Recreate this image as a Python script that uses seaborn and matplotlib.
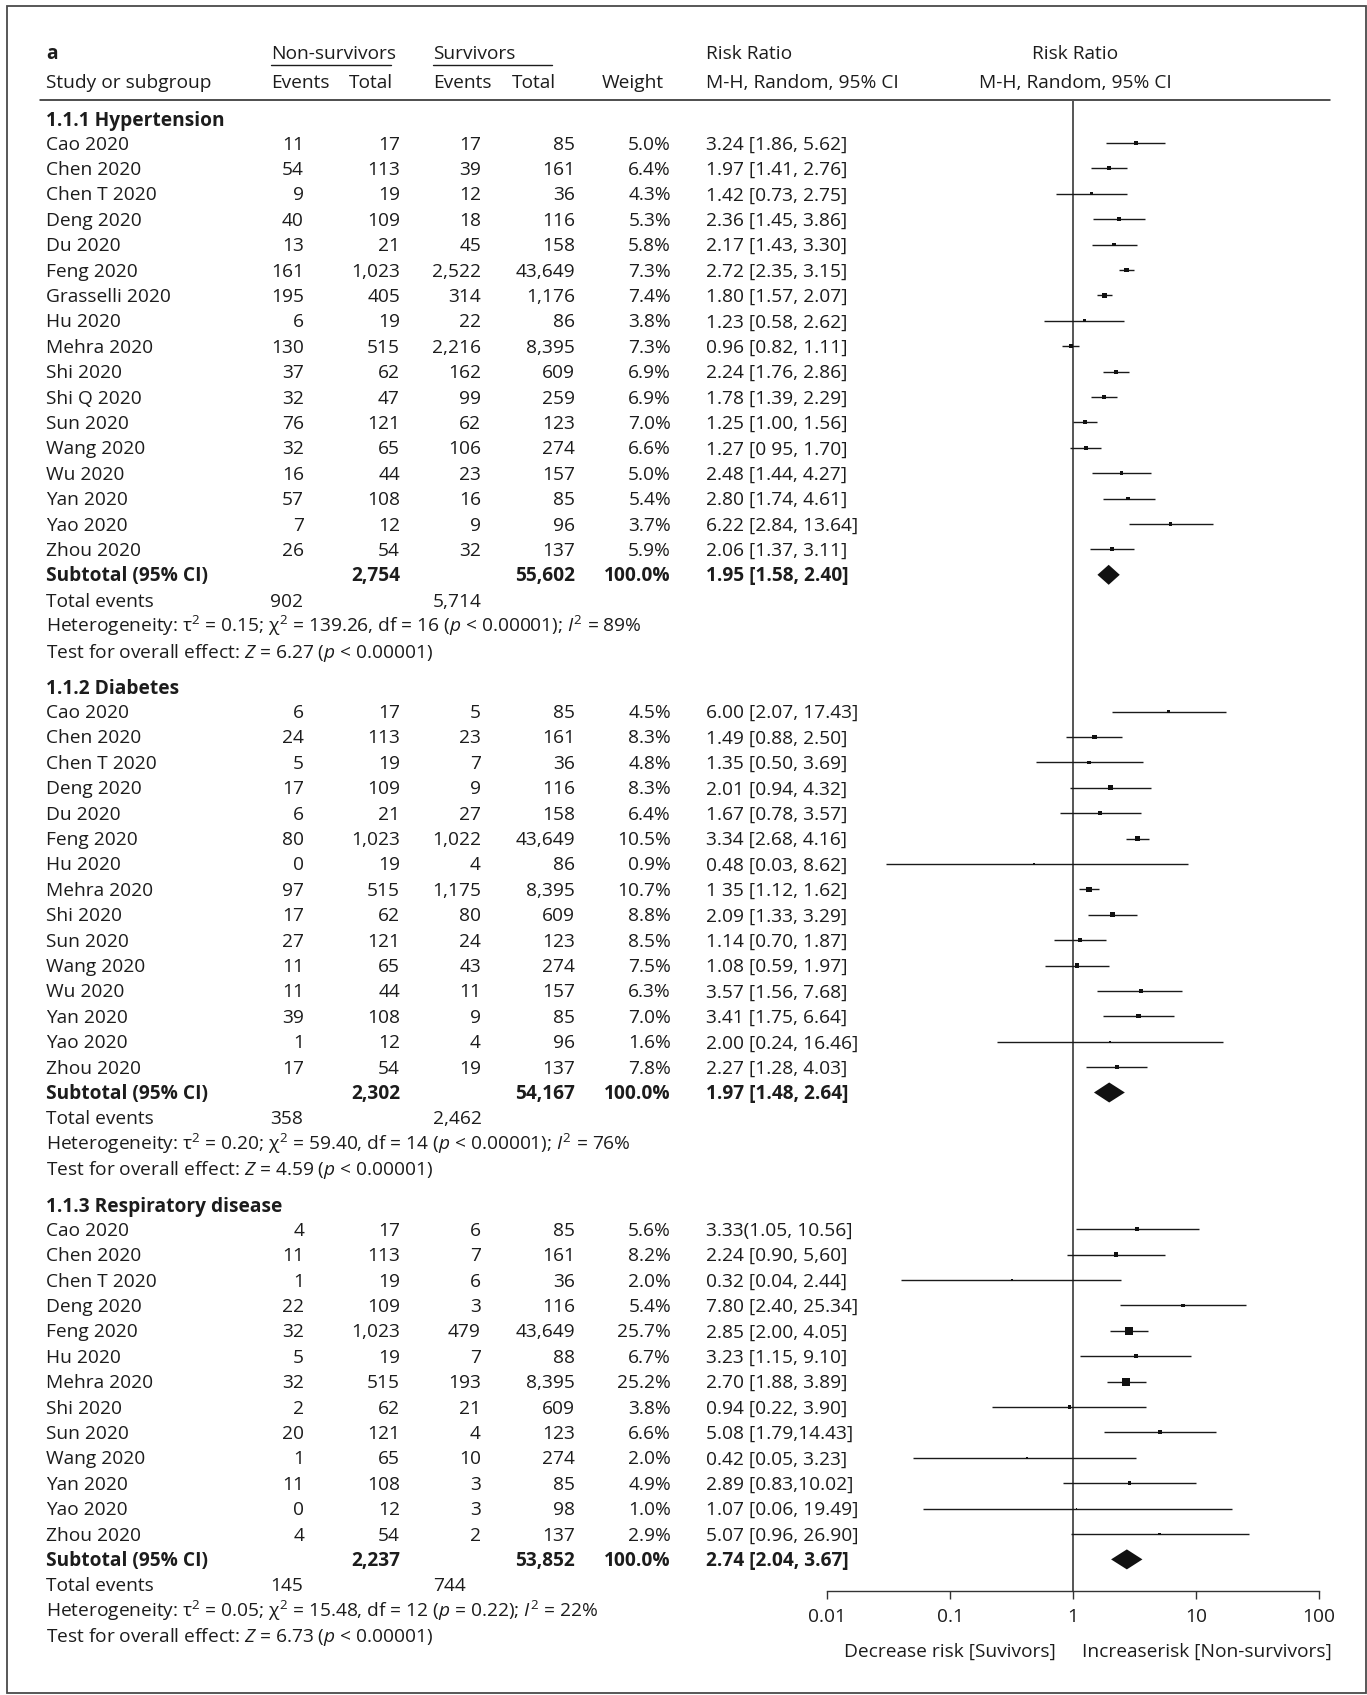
import numpy as np
import pandas as pd
import matplotlib
matplotlib.use("Agg")
import matplotlib.pyplot as plt
import seaborn as sns
from matplotlib.patches import Rectangle

# ---------------------------------------------------------------- data
htn_study = ["Cao 2020", "Chen 2020", "Chen T 2020", "Deng 2020", "Du 2020", "Feng 2020",
             "Grasselli 2020", "Hu 2020", "Mehra 2020", "Shi 2020", "Shi Q 2020", "Sun 2020",
             "Wang 2020", "Wu 2020", "Yan 2020", "Yao 2020", "Zhou 2020"]
htn_ev_ns = [11, 54, 9, 40, 13, 161, 195, 6, 130, 37, 32, 76, 32, 16, 57, 7, 26]
htn_tot_ns = [17, 113, 19, 109, 21, 1023, 405, 19, 515, 62, 47, 121, 65, 44, 108, 12, 54]
htn_ev_s = [17, 39, 12, 18, 45, 2522, 314, 22, 2216, 162, 99, 62, 106, 23, 16, 9, 32]
htn_tot_s = [85, 161, 36, 116, 158, 43649, 1176, 86, 8395, 609, 259, 123, 274, 157, 85, 96, 137]
htn_weight = [5.0, 6.4, 4.3, 5.3, 5.8, 7.3, 7.4, 3.8, 7.3, 6.9, 6.9, 7.0, 6.6, 5.0, 5.4, 3.7, 5.9]
htn_rr = [3.24, 1.97, 1.42, 2.36, 2.17, 2.72, 1.80, 1.23, 0.96, 2.24, 1.78, 1.25, 1.27, 2.48, 2.80, 6.22, 2.06]
htn_lo = [1.86, 1.41, 0.73, 1.45, 1.43, 2.35, 1.57, 0.58, 0.82, 1.76, 1.39, 1.00, 0.95, 1.44, 1.74, 2.84, 1.37]
htn_hi = [5.62, 2.76, 2.75, 3.86, 3.30, 3.15, 2.07, 2.62, 1.11, 2.86, 2.29, 1.56, 1.70, 4.27, 4.61, 13.64, 3.11]
htn_ci_text = ["3.24 [1.86, 5.62]", "1.97 [1.41, 2.76]", "1.42 [0.73, 2.75]", "2.36 [1.45, 3.86]",
               "2.17 [1.43, 3.30]", "2.72 [2.35, 3.15]", "1.80 [1.57, 2.07]", "1.23 [0.58, 2.62]",
               "0.96 [0.82, 1.11]", "2.24 [1.76, 2.86]", "1.78 [1.39, 2.29]", "1.25 [1.00, 1.56]",
               "1.27 [0 95, 1.70]", "2.48 [1.44, 4.27]", "2.80 [1.74, 4.61]", "6.22 [2.84, 13.64]",
               "2.06 [1.37, 3.11]"]
htn_sub = dict(tot_ns=2754, tot_s=55602, rr=1.95, lo=1.58, hi=2.40, text="1.95 [1.58, 2.40]",
               ev_ns=902, ev_s=5714)
htn_het = r"Heterogeneity: τ$^2$ = 0.15; χ$^2$ = 139.26, df = 16 ($\mathit{p}$ < 0.00001); $\mathit{I}^2$ = 89%"
htn_test = r"Test for overall effect: $\mathit{Z}$ = 6.27 ($\mathit{p}$ < 0.00001)"

dm_study = ["Cao 2020", "Chen 2020", "Chen T 2020", "Deng 2020", "Du 2020", "Feng 2020", "Hu 2020",
            "Mehra 2020", "Shi 2020", "Sun 2020", "Wang 2020", "Wu 2020", "Yan 2020", "Yao 2020",
            "Zhou 2020"]
dm_ev_ns = [6, 24, 5, 17, 6, 80, 0, 97, 17, 27, 11, 11, 39, 1, 17]
dm_tot_ns = [17, 113, 19, 109, 21, 1023, 19, 515, 62, 121, 65, 44, 108, 12, 54]
dm_ev_s = [5, 23, 7, 9, 27, 1022, 4, 1175, 80, 24, 43, 11, 9, 4, 19]
dm_tot_s = [85, 161, 36, 116, 158, 43649, 86, 8395, 609, 123, 274, 157, 85, 96, 137]
dm_weight = [4.5, 8.3, 4.8, 8.3, 6.4, 10.5, 0.9, 10.7, 8.8, 8.5, 7.5, 6.3, 7.0, 1.6, 7.8]
dm_rr = [6.00, 1.49, 1.35, 2.01, 1.67, 3.34, 0.48, 1.35, 2.09, 1.14, 1.08, 3.57, 3.41, 2.00, 2.27]
dm_lo = [2.07, 0.88, 0.50, 0.94, 0.78, 2.68, 0.03, 1.12, 1.33, 0.70, 0.59, 1.56, 1.75, 0.24, 1.28]
dm_hi = [17.43, 2.50, 3.69, 4.32, 3.57, 4.16, 8.62, 1.62, 3.29, 1.87, 1.97, 7.68, 6.64, 16.46, 4.03]
dm_ci_text = ["6.00 [2.07, 17.43]", "1.49 [0.88, 2.50]", "1.35 [0.50, 3.69]", "2.01 [0.94, 4.32]",
              "1.67 [0.78, 3.57]", "3.34 [2.68, 4.16]", "0.48 [0.03, 8.62]", "1 35 [1.12, 1.62]",
              "2.09 [1.33, 3.29]", "1.14 [0.70, 1.87]", "1.08 [0.59, 1.97]", "3.57 [1.56, 7.68]",
              "3.41 [1.75, 6.64]", "2.00 [0.24, 16.46]", "2.27 [1.28, 4.03]"]
dm_sub = dict(tot_ns=2302, tot_s=54167, rr=1.97, lo=1.48, hi=2.64, text="1.97 [1.48, 2.64]",
              ev_ns=358, ev_s=2462)
dm_het = r"Heterogeneity: τ$^2$ = 0.20; χ$^2$ = 59.40, df = 14 ($\mathit{p}$ < 0.00001); $\mathit{I}^2$ = 76%"
dm_test = r"Test for overall effect: $\mathit{Z}$ = 4.59 ($\mathit{p}$ < 0.00001)"

resp_study = ["Cao 2020", "Chen 2020", "Chen T 2020", "Deng 2020", "Feng 2020", "Hu 2020",
              "Mehra 2020", "Shi 2020", "Sun 2020", "Wang 2020", "Yan 2020", "Yao 2020", "Zhou 2020"]
resp_ev_ns = [4, 11, 1, 22, 32, 5, 32, 2, 20, 1, 11, 0, 4]
resp_tot_ns = [17, 113, 19, 109, 1023, 19, 515, 62, 121, 65, 108, 12, 54]
resp_ev_s = [6, 7, 6, 3, 479, 7, 193, 21, 4, 10, 3, 3, 2]
resp_tot_s = [85, 161, 36, 116, 43649, 88, 8395, 609, 123, 274, 85, 98, 137]
resp_weight = [5.6, 8.2, 2.0, 5.4, 25.7, 6.7, 25.2, 3.8, 6.6, 2.0, 4.9, 1.0, 2.9]
resp_rr = [3.33, 2.24, 0.32, 7.80, 2.85, 3.23, 2.70, 0.94, 5.08, 0.42, 2.89, 1.07, 5.07]
resp_lo = [1.05, 0.90, 0.04, 2.40, 2.00, 1.15, 1.88, 0.22, 1.79, 0.05, 0.83, 0.06, 0.96]
resp_hi = [10.56, 5.60, 2.44, 25.34, 4.05, 9.10, 3.89, 3.90, 14.43, 3.23, 10.02, 19.49, 26.90]
resp_ci_text = ["3.33(1.05, 10.56]", "2.24 [0.90, 5,60]", "0.32 [0.04, 2.44]", "7.80 [2.40, 25.34]",
                "2.85 [2.00, 4.05]", "3.23 [1.15, 9.10]", "2.70 [1.88, 3.89]", "0.94 [0.22, 3.90]",
                "5.08 [1.79,14.43]", "0.42 [0.05, 3.23]", "2.89 [0.83,10.02]", "1.07 [0.06, 19.49]",
                "5.07 [0.96, 26.90]"]
resp_sub = dict(tot_ns=2237, tot_s=53852, rr=2.74, lo=2.04, hi=3.67, text="2.74 [2.04, 3.67]",
                ev_ns=145, ev_s=744)
resp_het = r"Heterogeneity: τ$^2$ = 0.05; χ$^2$ = 15.48, df = 12 ($\mathit{p}$ = 0.22); $\mathit{I}^2$ = 22%"
resp_test = r"Test for overall effect: $\mathit{Z}$ = 6.73 ($\mathit{p}$ < 0.00001)"

group_titles = ["1.1.1 Hypertension", "1.1.2 Diabetes", "1.1.3 Respiratory disease"]
axis_ticks = [0.01, 0.1, 1, 10, 100]
axis_ticklabels = ["0.01", "0.1", "1", "10", "100"]

# ---------------------------------------------------------------- style
sns.set_theme(style="white")
FONT = ["Open Sans", "DejaVu Sans"]
plt.rcParams["font.family"] = FONT
plt.rcParams["mathtext.fontset"] = "custom"
plt.rcParams["mathtext.rm"] = "Open Sans"
plt.rcParams["mathtext.it"] = "Open Sans:italic"
plt.rcParams["mathtext.bf"] = "Open Sans:bold"

W, H = 1367, 1695
FS = 13.8
TXT = "#1c1c1c"
ROW = 25.4
BASE = 6.6   # baseline offset below row centre

X_STUDY, X_EV_NS, X_TOT_NS, X_EV_S, X_TOT_S, X_W, X_CI = 46, 304, 400, 481, 575, 671, 706
X_TE_NS, X_TE_S = 270, 433

fig = plt.figure(figsize=(W / 100, H / 100), dpi=100)
ax = fig.add_axes([0, 0, 1, 1])
ax.set_xlim(0, W)
ax.set_ylim(H, 0)
ax.axis("off")

AX_L, AX_R, AX_TOP, AX_BOT = 827, 1319, 100, 1591
fax = fig.add_axes([AX_L / W, (H - AX_BOT) / H, (AX_R - AX_L) / W, (AX_BOT - AX_TOP) / H])
fax.patch.set_visible(False)


def t(x, y, s, ha="left", bold=False):
    ax.text(x, y + BASE, s, ha=ha, va="baseline", fontsize=FS, color=TXT,
            fontweight="bold" if bold else "normal", family=FONT)


# frame
ax.add_patch(Rectangle((7, 6), W - 8, H - 8, fill=False, edgecolor="#4a4a4a", lw=1.3))

# header
t(X_STUDY, 52, "a", bold=True)
t(271, 52, "Non-survivors")
t(433, 52, "Survivors")
ax.plot([271, 391], [65, 65], color=TXT, lw=1.0)
ax.plot([433, 552], [65, 65], color=TXT, lw=1.0)
t(X_STUDY, 81, "Study or subgroup")
t(271, 81, "Events")
t(349, 81, "Total")
t(433, 81, "Events")
t(512, 81, "Total")
t(602, 81, "Weight")
t(X_CI, 52, "Risk Ratio")
t(X_CI, 81, "M-H, Random, 95% CI")
t(1075, 52, "Risk Ratio", ha="center")
t(1075, 81, "M-H, Random, 95% CI", ha="center")
ax.plot([40, 1330], [100, 100], color=TXT, lw=1.1)


def draw_group(y0, title, study, ev_ns, tot_ns, ev_s, tot_s, weight, rr, lo, hi, ci_text,
               sub, het, test):
    t(X_STUDY, y0, title, bold=True)
    ys = y0 + 24 + ROW * np.arange(len(study))
    for i, y in enumerate(ys):
        t(X_STUDY, y, study[i])
        t(X_EV_NS, y, f"{ev_ns[i]:,}", ha="right")
        t(X_TOT_NS, y, f"{tot_ns[i]:,}", ha="right")
        t(X_EV_S, y, f"{ev_s[i]:,}", ha="right")
        t(X_TOT_S, y, f"{tot_s[i]:,}", ha="right")
        t(X_W, y, f"{weight[i]:.1f}%", ha="right")
        t(X_CI, y, ci_text[i])
    df = pd.DataFrame({"rr": rr, "y": ys, "w": weight})
    fax.hlines(df["y"], lo, hi, color="#1a1a1a", lw=1.0, zorder=3)
    sns.scatterplot(data=df, x="rr", y="y", size="w", sizes=(0, 33), size_norm=(0, 25.7),
                    marker="s", color="#111111", linewidth=0, legend=False, ax=fax, zorder=4)
    ysub = ys[-1] + ROW
    t(X_STUDY, ysub, "Subtotal (95% CI)", bold=True)
    t(X_TOT_NS, ysub, f"{sub['tot_ns']:,}", ha="right", bold=True)
    t(X_TOT_S, ysub, f"{sub['tot_s']:,}", ha="right", bold=True)
    t(X_W, ysub, "100.0%", ha="right", bold=True)
    t(X_CI, ysub, sub["text"], bold=True)
    dh = 10
    fax.fill([sub["lo"], sub["rr"], sub["hi"], sub["rr"]],
             [ysub, ysub - dh, ysub, ysub + dh], color="#111111", lw=0, zorder=4)
    yte = ysub + ROW
    t(X_STUDY, yte, "Total events")
    t(X_TE_NS, yte, f"{sub['ev_ns']:,}")
    t(X_TE_S, yte, f"{sub['ev_s']:,}")
    t(X_STUDY, yte + ROW, het)
    t(X_STUDY, yte + 2 * ROW, test)
    return yte + 2 * ROW + 36.5


y = 119
y = draw_group(y, group_titles[0], htn_study, htn_ev_ns, htn_tot_ns, htn_ev_s, htn_tot_s,
               htn_weight, htn_rr, htn_lo, htn_hi, htn_ci_text, htn_sub, htn_het, htn_test)
y = draw_group(y, group_titles[1], dm_study, dm_ev_ns, dm_tot_ns, dm_ev_s, dm_tot_s,
               dm_weight, dm_rr, dm_lo, dm_hi, dm_ci_text, dm_sub, dm_het, dm_test)
y = draw_group(y, group_titles[2], resp_study, resp_ev_ns, resp_tot_ns, resp_ev_s, resp_tot_s,
               resp_weight, resp_rr, resp_lo, resp_hi, resp_ci_text, resp_sub, resp_het, resp_test)

# forest axis
fax.set_xscale("log")
fax.set_xlim(axis_ticks[0], axis_ticks[-1])
fax.set_ylim(AX_BOT, AX_TOP)
fax.axvline(1, color="#555555", lw=1.4, zorder=2)
for side in ["left", "right", "top"]:
    fax.spines[side].set_visible(False)
fax.spines["bottom"].set_color("#333333")
fax.spines["bottom"].set_linewidth(1.0)
fax.set_yticks([])
fax.set_xticks(axis_ticks)
fax.set_xticklabels(axis_ticklabels, fontsize=FS, color=TXT, family=FONT)
fax.xaxis.set_minor_locator(matplotlib.ticker.NullLocator())
fax.tick_params(axis="x", which="major", direction="out", length=5.5, width=1.0,
                color="#333333", pad=7, bottom=True)
fax.set_xlabel("")
fax.set_ylabel("")

t(1056, 1650, "Decrease risk [Suvivors]", ha="right")
t(1082, 1650, "Increaserisk [Non-survivors]")

fig.savefig("out.png", dpi=100)
